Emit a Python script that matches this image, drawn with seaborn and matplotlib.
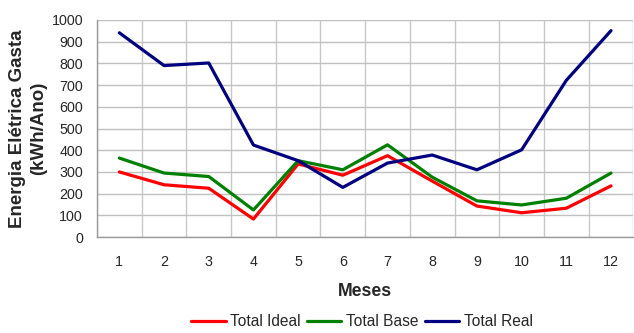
import matplotlib
matplotlib.use("Agg")
import matplotlib.pyplot as plt
import seaborn as sns
import pandas as pd
import numpy as np
from matplotlib.ticker import MultipleLocator

months = list(range(1, 13))
total_ideal = [300, 241, 225, 83, 337, 285, 375, 258, 143, 112, 133, 236]
total_base = [364, 295, 279, 125, 352, 310, 425, 276, 167, 148, 179, 295]
total_real = [941, 790, 802, 424, 352, 229, 341, 378, 310, 402, 722, 951]
series_names = ["Total Ideal", "Total Base", "Total Real"]
colors = ["#FF0000", "#008000", "#000080"]

df = pd.DataFrame({
    "Meses": months * 3,
    "Valor": total_ideal + total_base + total_real,
    "Serie": [series_names[0]] * 12 + [series_names[1]] * 12 + [series_names[2]] * 12,
})

sns.set_style("white")
plt.rcParams["font.family"] = ["Liberation Sans", "DejaVu Sans"]

fig = plt.figure(figsize=(6.34, 3.33), dpi=100)
ax = fig.add_axes([0.153, 0.288, 0.846, 0.652])

sns.lineplot(data=df, x="Meses", y="Valor", hue="Serie", palette=colors,
             linewidth=2.3, ax=ax, legend=True)

ax.set_xlim(0.5, 12.5)
ax.set_ylim(0, 1000)
ax.set_xticks(months)
ax.set_xticklabels([str(m) for m in months], fontsize=10.3)
ax.set_xticks(np.arange(0.5, 13, 1), minor=True)
ax.yaxis.set_major_locator(MultipleLocator(100))
ax.tick_params(axis="x", which="major", length=0, pad=13)
ax.tick_params(axis="x", which="minor", length=4, color="#999999", direction="out")
ax.tick_params(axis="y", which="major", length=4, color="#999999", labelsize=10.3, pad=6)
ax.grid(True, which="minor", axis="x", color="#C8C8C8", linewidth=1)
ax.grid(True, which="major", axis="y", color="#C0C0C0", linewidth=1)
ax.grid(False, which="major", axis="x")
for s in ["top", "right"]:
    ax.spines[s].set_visible(False)
for s in ["left", "bottom"]:
    ax.spines[s].set_color("#999999")
    ax.spines[s].set_linewidth(1)

ax.set_xlabel("Meses", fontsize=12.7, fontweight="bold", labelpad=10)
ax.set_ylabel("Energia Elétrica Gasta\n(kWh/Ano)", fontsize=13.5, fontweight="bold",
              labelpad=3, linespacing=1.35)

handles, labels = ax.get_legend_handles_labels()
ax.legend(handles, labels, loc="center", bbox_to_anchor=(0.494, -0.39),
          ncol=3, frameon=False, fontsize=11.2, handlelength=2.2,
          handletextpad=0.3, columnspacing=0.4)

fig.savefig("out.png", dpi=100)
